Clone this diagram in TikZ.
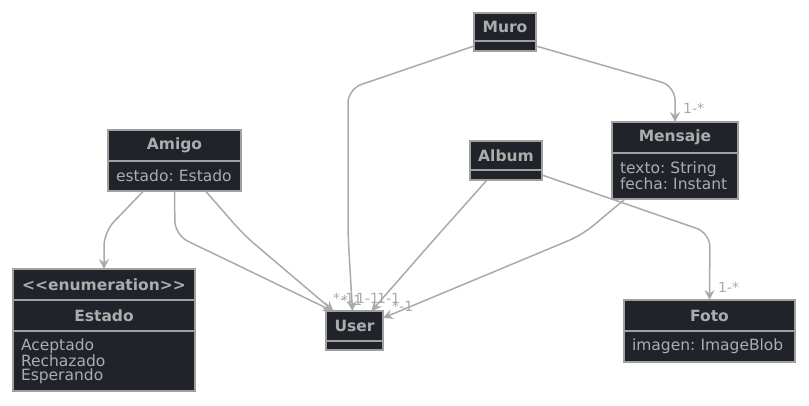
\documentclass[tikz,border=0pt]{standalone}
\usepackage{fontspec}
\setmainfont{DejaVu Sans}
\usetikzlibrary{positioning,arrows.meta,backgrounds}
\definecolor{boxfill}{HTML}{20232A}
\definecolor{boxline}{HTML}{A0A0A0}
\definecolor{boxtext}{HTML}{ADADAD}
\definecolor{linkcol}{HTML}{AAAAAA}
\frenchspacing

\begin{document}
\begin{tikzpicture}[x=1pt,y=-1pt,
  cls/.style={draw=boxline,fill=boxfill,text=boxtext,line width=1.5pt,inner sep=0pt,outer sep=0pt,minimum height=30pt,font=\bfseries\fontsize{15.5}{17}\selectfont},
  attr/.style={cls,font=\fontsize{15.5}{14.5}\selectfont,align=left,inner xsep=8pt,minimum height=10pt},
  link/.style={draw=linkcol,line width=1.5pt,rounded corners=14pt,-{Stealth[length=10pt,width=10pt,inset=3.5pt]}},
  mult/.style={text=linkcol,font=\fontsize{14}{14}\selectfont,inner sep=0pt,anchor=west}
]
\useasboundingbox (0,0) rectangle (809,405);

% Classes
\node[cls,minimum width=62pt,minimum height=28pt] (muro) at (505,27) {Muro};
\node[attr,minimum width=62pt,below=0pt of muro] (muroB) {};

\node[cls,minimum width=133pt,minimum height=31pt] (amigo) at (174.5,145.5) {Amigo};
\node[attr,text width=117pt,minimum height=30pt,below=0pt of amigo] (amigoB) {estado: Estado};

\node[cls,minimum width=72pt,minimum height=29pt] (album) at (506,155.5) {Album};
\node[attr,minimum width=72pt,below=0pt of album] (albumB) {};

\node[cls,minimum width=126pt,minimum height=31pt] (mensaje) at (675,137.5) {Mensaje};
\node[attr,text width=110pt,minimum height=46pt,below=0pt of mensaje] (mensajeB) {texto: String\\fecha: Instant};

% Enumeration
\node[cls,minimum width=182pt,minimum height=31pt] (enum) at (104,284.5) {<\kern0pt<enumeration>\kern0pt>};
\node[cls,minimum width=182pt,minimum height=31pt,below=0pt of enum] (estado) {Estado};
\node[attr,text width=166pt,minimum height=60pt,below=0pt of estado] (estadoB) {Aceptado\\Rechazado\\Esperando};

\node[cls,minimum width=57pt,minimum height=30pt] (user) at (354.5,326) {User};
\node[attr,minimum width=57pt,minimum height=9pt,below=0pt of user] (userB) {};

\node[cls,minimum width=171pt,minimum height=31pt] (foto) at (709.5,315.5) {Foto};
\node[attr,text width=155pt,minimum height=31pt,below=0pt of foto] (fotoB) {imagen: ImageBlob};

% Associations
\begin{scope}[on background layer]
  \draw[link] (muroB.west) -- (348,89) -- (348,235) -- ([xshift=-2pt]user.north);
  \draw[link] (muroB.east) -- (675,86) -- (mensaje.north);
  \draw[link] ([xshift=-31pt]amigoB.south) -- (104,232) -- (enum.north);
  \draw[link] (amigoB.south) -- (175,235) -- ([xshift=-22pt]user.north);
  \draw[link] ([xshift=31pt]amigoB.south) -- (244,235) -- ([xshift=-21pt]user.north);
  \draw[link] ([xshift=-19pt]albumB.south) -- (438,235) -- ([xshift=17pt]user.north);
  \draw[link] ([xshift=-50pt]mensajeB.south) -- (582,235) -- ([yshift=-7pt]user.north east);
  \draw[link] (albumB.east) -- (710,233) -- (foto.north);
\end{scope}

% Multiplicities
\node[mult] (mMensaje) at (683,108) {1-*};
\node[mult] (mFoto) at (718,287) {1-*};
\node[mult] (mUserA) at (333,298) {*-1};
\node[mult] (mUserB) at (341,300) {*-1};
\node[mult] (mUserC) at (356,298) {1-1};
\node[mult] (mUserD) at (377,298) {1-1};
\node[mult] (mUserE) at (392,306) {*-1};
\end{tikzpicture}
\end{document}
